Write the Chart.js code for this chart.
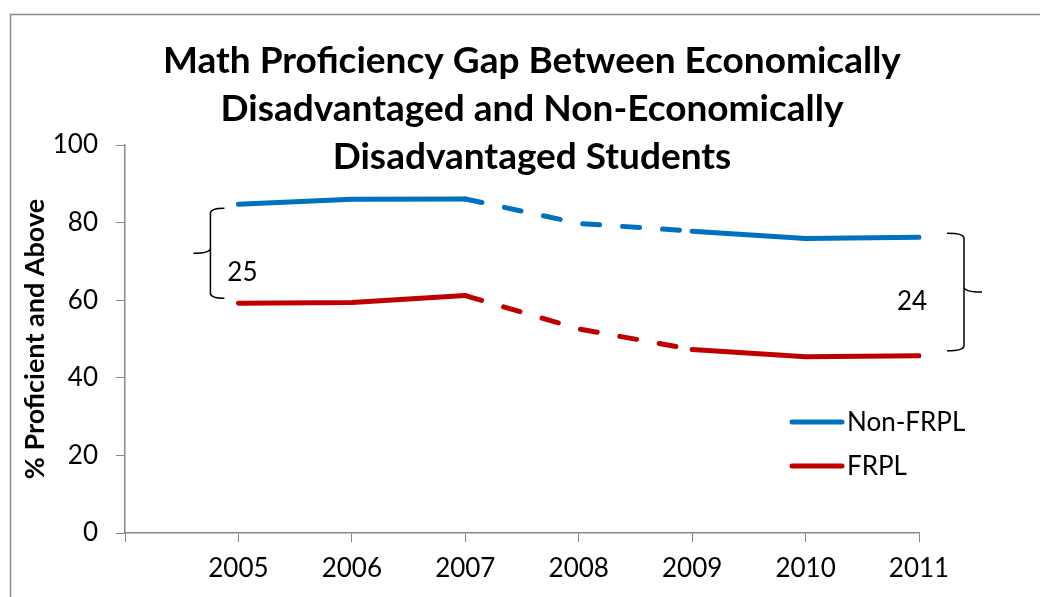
<!DOCTYPE html>
<html>
<head>
<meta charset="utf-8">
<script src="https://cdn.jsdelivr.net/npm/chart.js@4.4.1/dist/chart.umd.min.js"></script>
<style>
  html, body { margin: 0; padding: 0; background: #fff; }
  canvas { display: block; }
</style>
</head>
<body>
<canvas id="chart" width="1040" height="597"></canvas>
<script>
// data
const years = ['', '2005', '2006', '2007', '2008', '2009', '2010', '2011'];
const nonFrpl = [null, 84.7, 86.0, 86.1, 79.8, 77.8, 75.9, 76.2];
const frpl = [null, 59.2, 59.4, 61.2, 52.6, 47.3, 45.4, 45.7];
const gapLabels = ['25', '24'];
const titleLines = [
  'Math Proficiency Gap Between Economically',
  'Disadvantaged and Non-Economically',
  'Disadvantaged Students'
];

const FONT = 'Lato, "Open Sans", sans-serif';
const BLUE = '#0070C0';
const RED = '#C00000';
const AXIS = '#868686';

// dashed between 2007 and 2009
const dashed = ctx => (ctx.p0DataIndex >= 3 && ctx.p1DataIndex <= 5) ? [17, 23] : undefined;

function brace(c, x, y1, y2, arm, tip) {
  // arm: direction of top/bottom arms, tip: direction of middle point
  const m = (y1 + y2) / 2;
  const r = 5;
  c.beginPath();
  c.moveTo(x + arm, y1);
  c.quadraticCurveTo(x, y1, x, y1 + r);
  c.lineTo(x, m - r);
  c.quadraticCurveTo(x, m, x + tip, m);
  c.moveTo(x, m - r);
  c.quadraticCurveTo(x, m, x, m + r);
  c.lineTo(x, y2 - r);
  c.quadraticCurveTo(x, y2, x + arm, y2);
  c.stroke();
}

const extras = {
  id: 'extras',
  beforeDraw(chart) {
    const c = chart.ctx;
    c.save();
    c.fillStyle = '#fff';
    c.fillRect(0, 0, chart.width, chart.height);
    c.strokeStyle = '#8a8a8a';
    c.lineWidth = 1.5;
    c.strokeRect(10.5, 14.5, 1200, 800);
    c.restore();
  },
  afterDraw(chart) {
    const c = chart.ctx;
    const xs = chart.scales.x, ys = chart.scales.y;
    c.save();
    // title
    c.fillStyle = '#000';
    c.font = 'bold 37px ' + FONT;
    c.textAlign = 'center';
    c.textBaseline = 'middle';
    titleLines.forEach((t, i) => c.fillText(t, 532, 61 + i * 48));

    // legend
    const items = [['Non-FRPL', BLUE], ['FRPL', RED]];
    c.lineCap = 'round';
    c.lineWidth = 5;
    c.font = '26px ' + FONT;
    c.textAlign = 'left';
    items.forEach(([lab, col], i) => {
      const y = 422 + i * 44;
      c.strokeStyle = col;
      c.beginPath();
      c.moveTo(792, y);
      c.lineTo(842, y);
      c.stroke();
      c.fillStyle = '#000';
      c.fillText(lab, 847, y + 1);
    });

    // gap braces
    c.strokeStyle = '#000';
    c.lineWidth = 1.5;
    c.lineCap = 'butt';
    const lx = xs.getPixelForValue(1) - 28;
    brace(c, lx, ys.getPixelForValue(nonFrpl[1]) + 4, ys.getPixelForValue(frpl[1]) - 5, 14, -17);
    const rx = xs.getPixelForValue(7) + 45;
    brace(c, rx, ys.getPixelForValue(nonFrpl[7]) - 4, ys.getPixelForValue(frpl[7]) - 5, -17, 18);
    c.textAlign = 'center';
    c.fillText(gapLabels[0], lx + 32, 273);
    c.fillText(gapLabels[1], rx - 52, 302);
    c.restore();
  }
};

new Chart(document.getElementById('chart'), {
  type: 'line',
  data: {
    labels: years,
    datasets: [
      { label: 'Non-FRPL', data: nonFrpl, borderColor: BLUE, backgroundColor: BLUE,
        borderWidth: 5, borderCapStyle: 'round', pointRadius: 0, tension: 0,
        segment: { borderDash: dashed } },
      { label: 'FRPL', data: frpl, borderColor: RED, backgroundColor: RED,
        borderWidth: 5, borderCapStyle: 'round', pointRadius: 0, tension: 0,
        segment: { borderDash: dashed } }
    ]
  },
  options: {
    responsive: false,
    animation: false,
    layout: { padding: { top: 145, right: 121, left: 0, bottom: 0 } },
    plugins: {
      legend: { display: false },
      tooltip: { enabled: false },
      title: { display: false }
    },
    scales: {
      x: {
        offset: false,
        grid: { drawOnChartArea: false, drawTicks: true, tickLength: 9, color: AXIS },
        border: { color: AXIS, width: 1.5 },
        ticks: { color: '#000', font: { family: FONT, size: 26 }, padding: 11, maxRotation: 0, autoSkip: false },
        afterFit: s => { s.height = 64; }
      },
      y: {
        min: 0, max: 100,
        grid: { drawOnChartArea: false, drawTicks: true, tickLength: 9, color: AXIS },
        border: { color: AXIS, width: 1.5 },
        ticks: { stepSize: 20, color: '#000', font: { family: FONT, size: 26 }, padding: 18 },
        title: { display: true, text: '% Proficient and Above', color: '#000',
                 font: { family: FONT, size: 27, weight: 'bold' }, padding: { top: 19, bottom: 0 } },
        afterFit: s => { s.width = 125; }
      }
    }
  },
  plugins: [extras]
});
</script>
</body>
</html>
